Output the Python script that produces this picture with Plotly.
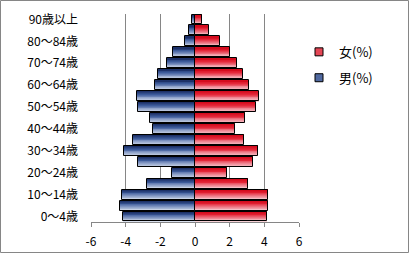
import plotly.graph_objects as go

categories = ["0～4歳", "5～9歳", "10～14歳", "15～19歳", "20～24歳", "25～29歳",
              "30～34歳", "35～39歳", "40～44歳", "45～49歳", "50～54歳", "55～59歳",
              "60～64歳", "65～69歳", "70～74歳", "75～79歳", "80～84歳", "85～89歳",
              "90歳以上"]
male = [-4.18, -4.32, -4.24, -2.77, -1.35, -3.26, -4.07, -3.6, -2.45, -2.62,
        -3.26, -3.32, -2.33, -2.14, -1.64, -1.25, -0.6, -0.37, -0.17]
female = [4.14, 4.2, 4.2, 3.04, 1.83, 3.33, 3.62, 2.81, 2.29, 2.87,
          3.5, 3.68, 3.1, 2.75, 2.4, 2.0, 1.42, 0.82, 0.38]
tick_labels = ["0～4歳", "10～14歳", "20～24歳", "30～34歳", "40～44歳",
               "50～54歳", "60～64歳", "70～74歳", "80～84歳", "90歳以上"]
x_ticks = [-6, -4, -2, 0, 2, 4, 6]

FONT = "Noto Sans CJK JP"
BAR_W = 0.9
N = 12

# gradient stops: (t, rgb), t=0 bottom edge, t=1 top edge
male_stops = [(0.0, (226, 232, 243)), (0.35, (150, 168, 205)),
              (0.7, (62, 92, 156)), (1.0, (24, 42, 96))]
fem_stops = [(0.0, (249, 220, 224)), (0.35, (240, 140, 152)),
             (0.7, (228, 40, 58)), (1.0, (210, 8, 26))]

def grad(stops, t):
    for (t0, c0), (t1, c1) in zip(stops[:-1], stops[1:]):
        if t <= t1:
            u = (t - t0) / (t1 - t0)
            return "rgb(%d,%d,%d)" % tuple(round(a + (b - a) * u) for a, b in zip(c0, c1))
    return "rgb(%d,%d,%d)" % stops[-1][1]

fig = go.Figure()
for series, stops in [(male, male_stops), (female, fem_stops)]:
    for k in range(N):
        t = (k + 0.5) / N
        fig.add_trace(go.Bar(
            x=series, y=categories, orientation="h",
            width=BAR_W / N + 0.01, offset=-BAR_W / 2 + k * BAR_W / N,
            marker=dict(color=grad(stops, t), line=dict(width=0)),
            showlegend=False, hoverinfo="skip"))
    fig.add_trace(go.Bar(
        x=series, y=categories, orientation="h",
        width=BAR_W, offset=-BAR_W / 2,
        marker=dict(color="rgba(0,0,0,0)", line=dict(color="black", width=1)),
        showlegend=False, hoverinfo="skip"))

# legend entries
fig.add_trace(go.Scatter(x=[None], y=[categories[0]], mode="markers", name="女(%)",
                         legendrank=1, legendgroup="f",
                         marker=dict(symbol="square", size=8, color="rgb(228,70,85)",
                                     line=dict(color="black", width=1))))
fig.add_trace(go.Scatter(x=[None], y=[categories[0]], mode="markers", name="男(%)",
                         legendrank=2, legendgroup="m",
                         marker=dict(symbol="square", size=8, color="rgb(80,105,160)",
                                     line=dict(color="black", width=1))))

L, T, PW, PH = 91, 14, 208, 208
W, H = 409, 253
fig.update_layout(
    width=W, height=H, barmode="overlay", bargap=0,
    margin=dict(l=L, r=W - L - PW, t=T, b=H - T - PH, pad=0, autoexpand=False),
    paper_bgcolor="white", plot_bgcolor="white",
    font=dict(family=FONT, size=12, color="black"),
    xaxis=dict(range=[-6, 6], tickvals=x_ticks, ticktext=[str(v) for v in x_ticks],
               showgrid=True, gridcolor="#868686", gridwidth=1,
               zeroline=True, zerolinecolor="#868686", zerolinewidth=1,
               showline=True, linecolor="#868686", linewidth=1,
               ticks="outside", ticklen=4, tickcolor="#868686",
               ticklabelstandoff=5, automargin=False,
               tickfont=dict(size=12), fixedrange=True),
    yaxis=dict(type="category", categoryorder="array", categoryarray=categories,
               range=[-0.5, len(categories) - 0.5],
               tickvals=tick_labels, ticktext=tick_labels,
               showgrid=False, showline=False, ticks="", automargin=False,
               ticklabelstandoff=12, tickfont=dict(size=12), fixedrange=True),
    legend=dict(x=1.0, y=0.89, xanchor="left", yanchor="top",
                font=dict(size=13), bgcolor="rgba(0,0,0,0)",
                itemwidth=30, tracegroupgap=6, traceorder="grouped"),
    showlegend=True,
    shapes=[dict(type="rect", xref="paper", yref="paper",
                 x0=(0.5 - L) / PW, x1=(W - 0.5 - L) / PW,
                 y0=(T + PH - (H - 0.5)) / PH, y1=(T + PH - 0.5) / PH,
                 line=dict(color="#868686", width=1), fillcolor="rgba(0,0,0,0)")],
)
fig.write_html("out.html")
